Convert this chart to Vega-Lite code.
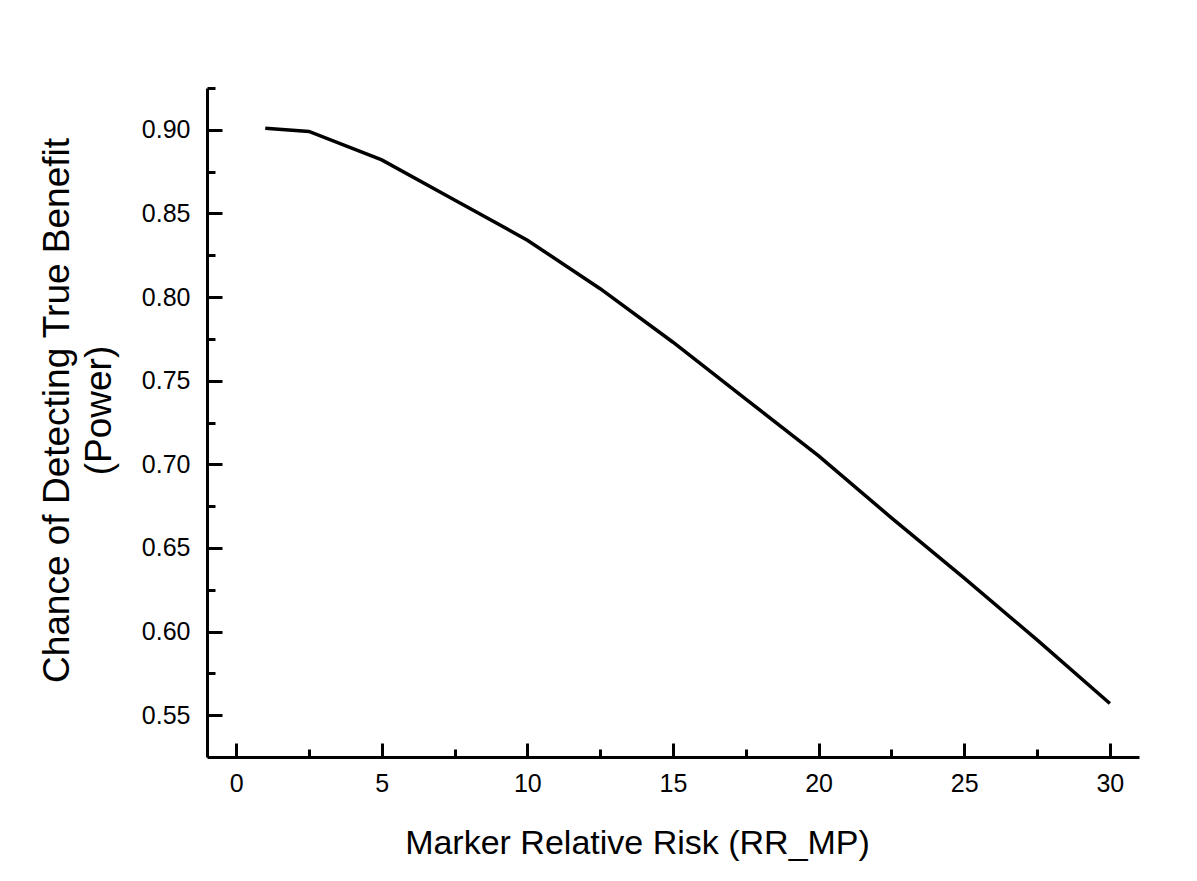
{
  "$schema": "https://vega.github.io/schema/vega-lite/v6.json",
  "width": 932,
  "height": 669,
  "autosize": {"type": "none"},
  "padding": {"left": 207, "top": 88, "right": 58, "bottom": 124},
  "background": "white",
  "config": {
    "view": {"stroke": null},
    "font": "Liberation Sans",
    "axis": {
      "grid": false,
      "domainColor": "black",
      "domainWidth": 3,
      "tickColor": "black",
      "tickWidth": 3,
      "tickOpacity": 1,
      "labelColor": "black",
      "titleColor": "black",
      "labelFont": "Liberation Sans",
      "titleFont": "Liberation Sans",
      "titleFontWeight": "normal"
    }
  },
  "data": {
    "values": [
      {"rr": 1, "power": 0.901},
      {"rr": 2.5, "power": 0.899},
      {"rr": 5, "power": 0.882},
      {"rr": 7.5, "power": 0.858},
      {"rr": 10, "power": 0.834},
      {"rr": 12.5, "power": 0.805},
      {"rr": 15, "power": 0.773},
      {"rr": 17.5, "power": 0.739},
      {"rr": 20, "power": 0.705},
      {"rr": 22.5, "power": 0.668},
      {"rr": 25, "power": 0.632},
      {"rr": 27.5, "power": 0.595},
      {"rr": 30, "power": 0.557}
    ]
  },
  "layer": [
    {
      "mark": {"type": "line", "color": "black", "strokeWidth": 3.5},
      "encoding": {
        "x": {
          "field": "rr", "type": "quantitative",
          "scale": {"domain": [-1, 31], "nice": false, "zero": false},
          "axis": {
            "orient": "bottom",
            "values": [0, 5, 10, 15, 20, 25, 30],
            "tickSize": -14,
            "labelFontSize": 25,
            "labelPadding": 28,
            "labelBaseline": "top",
            "title": "Marker Relative Risk (RR_MP)",
            "titleFontSize": 34,
            "titleX": 430,
            "titleY": 96,
            "titleBaseline": "alphabetic",
            "titleAnchor": null
          }
        },
        "y": {
          "field": "power", "type": "quantitative",
          "scale": {"domain": [0.525, 0.925], "nice": false, "zero": false},
          "axis": {
            "orient": "left",
            "values": [0.55, 0.6, 0.65, 0.7, 0.75, 0.8, 0.85, 0.9],
            "format": ".2f",
            "tickSize": -15,
            "labelFontSize": 25,
            "labelPadding": 32,
            "title": ["Chance of Detecting True Benefit", "(Power)"],
            "titleFontSize": 37,
            "titleLineHeight": 42,
            "titleAngle": -90,
            "titleAlign": "center",
            "titleBaseline": "alphabetic",
            "titleX": -139,
            "titleY": 322,
            "titleAnchor": null
          }
        }
      }
    },
    {
      "mark": {"type": "line", "opacity": 0},
      "encoding": {
        "x": {
          "field": "rr", "type": "quantitative",
          "axis": {
            "orient": "bottom",
            "values": [2.5, 7.5, 12.5, 17.5, 22.5, 27.5],
            "tickSize": -8,
            "labels": false,
            "domain": false,
            "title": null
          }
        },
        "y": {
          "field": "power", "type": "quantitative",
          "axis": {
            "orient": "left",
            "values": [0.575, 0.625, 0.675, 0.725, 0.775, 0.825, 0.875, 0.925],
            "tickSize": -8,
            "labels": false,
            "domain": false,
            "title": null
          }
        }
      }
    }
  ],
  "resolve": {"axis": {"x": "independent", "y": "independent"}}
}
